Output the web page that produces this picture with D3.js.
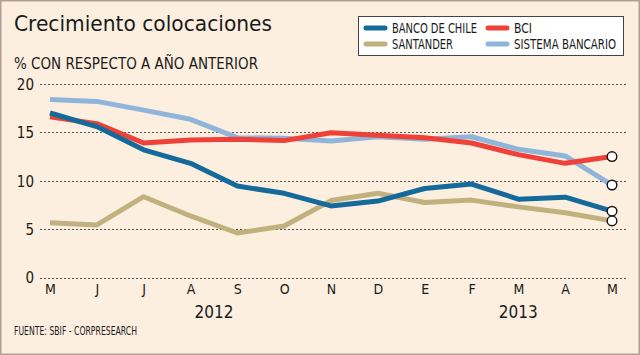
<!DOCTYPE html>
<html><head><meta charset="utf-8">
<script src="https://cdn.jsdelivr.net/npm/d3@7"></script>
<style>
html,body{margin:0;padding:0;background:#fcefdf;}
svg{display:block;}
text{font-family:Tahoma,"DejaVu Sans Condensed","DejaVu Sans",sans-serif;fill:#1a1a1a;}
</style></head>
<body>
<svg id="chart" width="640" height="355"></svg>
<script>
const months = ["M","J","J","A","S","O","N","D","E","F","M","A","M"];
const years = [{label:"2012", at:3.5}, {label:"2013", at:10}];
const yTicks = [0,5,10,15,20];
const bancoDeChile = [17.0,15.6,13.2,11.8,9.45,8.7,7.4,7.9,9.2,9.66,8.1,8.3,6.85];
const bci = [16.6,15.9,13.9,14.2,14.3,14.15,14.97,14.7,14.45,13.9,12.7,11.8,12.5];
const santander = [5.67,5.43,8.35,6.36,4.6,5.32,7.95,8.7,7.75,8.0,7.3,6.7,5.85];
const sistemaBancario = [18.4,18.2,17.3,16.35,14.45,14.4,14.1,14.55,14.3,14.55,13.25,12.56,9.56];
const seriesNames = ["BANCO DE CHILE","BCI","SANTANDER","SISTEMA BANCARIO"];
const seriesColors = ["#136a9b","#ef4138","#c1b17f","#90b5da"];

const series = [
  {name:seriesNames[0], values:bancoDeChile, color:seriesColors[0]},
  {name:seriesNames[1], values:bci, color:seriesColors[1]},
  {name:seriesNames[2], values:santander, color:seriesColors[2]},
  {name:seriesNames[3], values:sistemaBancario, color:seriesColors[3]}
];
const drawOrder = [2,3,1,0];

const svg = d3.select("#chart");
const W = 640, H = 355;
svg.append("rect").attr("x",0.75).attr("y",0.75).attr("width",W-1.5).attr("height",H-1.5)
  .attr("fill","#fcefdf").attr("stroke","#b39e95").attr("stroke-width",1.5);

const x = d3.scaleLinear().domain([0, months.length-1]).range([50, 612]);
const y = d3.scaleLinear().domain([0,20]).range([277.5, 84]);

// title
svg.append("text").attr("x",14).attr("y",31).attr("font-size",22)
  .attr("textLength",258).attr("lengthAdjust","spacingAndGlyphs").text("Crecimiento colocaciones");
svg.append("text").attr("x",14).attr("y",69).attr("font-size",15)
  .attr("textLength",244).attr("lengthAdjust","spacingAndGlyphs").text("% CON RESPECTO A AÑO ANTERIOR");

// grid
const yAxis = d3.axisLeft(y).tickValues(yTicks).tickSize(0).tickPadding(0);
const gy = svg.append("g").attr("transform","translate(34,0)").call(yAxis);
gy.select(".domain").remove();
gy.selectAll("text").attr("font-size",15).attr("fill","#1a1a1a").attr("font-family",null).attr("dy","0.35em");
svg.append("g").selectAll("line").data(yTicks).join("line")
  .attr("x1",40).attr("x2",626).attr("y1",d=>Math.round(y(d))+0.5).attr("y2",d=>Math.round(y(d))+0.5)
  .attr("stroke","#555").attr("stroke-width",1).attr("stroke-dasharray","2,2");

// x axis month labels
const xAxis = d3.axisBottom(x).tickValues(d3.range(months.length)).tickFormat(i=>months[i]).tickSize(0).tickPadding(0);
const gx = svg.append("g").attr("transform","translate(0,284)").call(xAxis);
gx.select(".domain").remove();
gx.selectAll("text").attr("font-size",14).attr("fill","#1a1a1a").attr("font-family",null).attr("dy","0.71em");

svg.append("g").selectAll("text").data(years).join("text")
  .attr("x",d=>x(d.at)).attr("y",318).attr("text-anchor","middle").attr("font-size",17).text(d=>d.label);

svg.append("text").attr("x",14).attr("y",335).attr("font-size",11.5)
  .attr("textLength",123).attr("lengthAdjust","spacingAndGlyphs").text("FUENTE: SBIF - CORPRESEARCH");

// lines
const line = d3.line().x((d,i)=>x(i)).y(d=>y(d));
svg.append("g").selectAll("path").data(drawOrder.map(i=>series[i])).join("path")
  .attr("d",d=>line(d.values)).attr("fill","none").attr("stroke",d=>d.color)
  .attr("stroke-width",5).attr("stroke-linejoin","round").attr("stroke-linecap","butt");

svg.append("g").selectAll("circle").data(series).join("circle")
  .attr("cx",d=>x(d.values.length-1)).attr("cy",d=>y(d.values[d.values.length-1]))
  .attr("r",4.8).attr("fill","#fff").attr("stroke","#111").attr("stroke-width",1.4);

// legend
const lg = svg.append("g");
lg.append("rect").attr("x",358.5).attr("y",16.5).attr("width",265).attr("height",39)
  .attr("fill","#fff").attr("stroke","#444").attr("stroke-width",1);
const pos = [[366,28],[488,28],[366,44],[488,44]];
const widths = [85,18,61,102];
series.forEach((s,i)=>{
  const [px,py]=pos[i];
  lg.append("line").attr("x1",px).attr("x2",px+19).attr("y1",py).attr("y2",py)
    .attr("stroke",s.color).attr("stroke-width",5).attr("stroke-linecap","round");
  lg.append("text").attr("x",px+26).attr("y",py+5).attr("font-size",13.5)
    .attr("textLength",widths[i]).attr("lengthAdjust","spacingAndGlyphs").text(s.name);
});
</script>
</body></html>
